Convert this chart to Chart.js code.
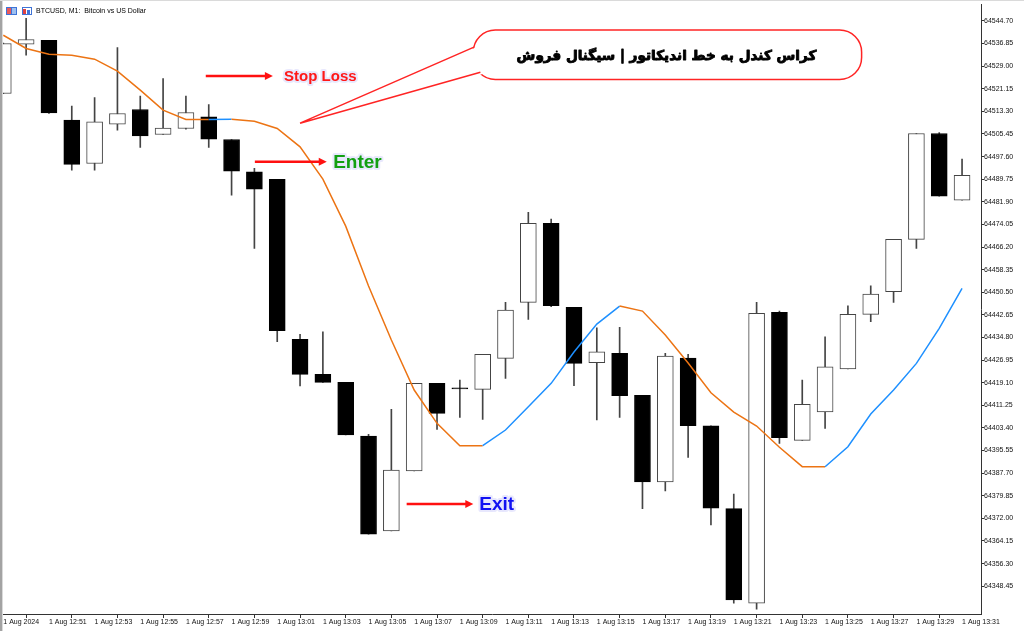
<!DOCTYPE html>
<html>
<head>
<meta charset="utf-8">
<script src="https://cdn.jsdelivr.net/npm/chart.js@4.4.1/dist/chart.umd.min.js"></script>
<style>
  html, body { margin: 0; padding: 0; background: #fff; }
  canvas { display: block; }
</style>
</head>
<body>
<canvas id="myChart" width="1024" height="631"></canvas>
<script>
// M1 candles, 1 Aug 2024
const times = ['12:49','12:50','12:51','12:52','12:53','12:54','12:55','12:56','12:57','12:58',
  '12:59','13:00','13:01','13:02','13:03','13:04','13:05','13:06','13:07','13:08',
  '13:09','13:10','13:11','13:12','13:13','13:14','13:15','13:16','13:17','13:18',
  '13:19','13:20','13:21','13:22','13:23','13:24','13:25','13:26','13:27','13:28',
  '13:29','13:30','13:31']

const opens = [64519.50, 64536.61, 64538.00, 64510.24, 64495.21, 64508.85, 64513.95, 64505.28, 64507.36, 64511.39,
  64503.54, 64492.30, 64489.66, 64434.14, 64422.00, 64419.22, 64400.59, 64367.62, 64388.44, 64418.87,
  64417.30, 64416.79, 64427.55, 64446.98, 64474.39, 64445.25, 64426.02, 64429.28, 64414.71, 64384.63,
  64427.65, 64404.16, 64375.36, 64342.53, 64443.51, 64399.10, 64408.92, 64423.84, 64442.82, 64450.66,
  64468.84, 64505.62, 64482.48]

const highs = [64537.00, 64545.63, 64538.00, 64515.10, 64518.12, 64535.47, 64518.57, 64524.71, 64518.57, 64515.69,
  64503.54, 64493.48, 64489.66, 64435.88, 64436.78, 64419.22, 64401.18, 64409.85, 64418.87, 64418.87,
  64420.02, 64428.94, 64446.98, 64478.21, 64475.89, 64445.25, 64438.17, 64438.31, 64414.71, 64429.28,
  64428.94, 64404.16, 64380.46, 64446.98, 64443.96, 64420.02, 64435.05, 64445.80, 64452.74, 64468.84,
  64505.62, 64505.97, 64496.71]

const lows = [64519.40, 64532.79, 64512.56, 64492.89, 64492.89, 64506.77, 64500.77, 64505.28, 64507.12, 64500.77,
  64484.21, 64465.72, 64433.31, 64417.94, 64419.22, 64400.93, 64366.48, 64367.62, 64388.44, 64402.91,
  64407.08, 64406.38, 64420.61, 64441.08, 64445.46, 64418.04, 64406.14, 64407.08, 64375.36, 64381.50,
  64393.20, 64369.70, 64342.53, 64340.45, 64398.05, 64399.10, 64403.26, 64423.84, 64440.25, 64446.98,
  64465.72, 64483.87, 64482.48]

const closes = [64536.85, 64538.24, 64512.77, 64494.87, 64509.65, 64512.56, 64504.79, 64507.46, 64512.91, 64503.65,
  64492.54, 64486.30, 64437.13, 64422.00, 64419.22, 64400.93, 64366.48, 64388.79, 64418.87, 64408.46,
  64416.90, 64428.94, 64444.31, 64474.39, 64445.80, 64425.81, 64429.84, 64414.57, 64384.63, 64428.35,
  64404.16, 64375.50, 64343.68, 64443.16, 64400.00, 64411.59, 64424.64, 64442.82, 64449.86, 64468.84,
  64505.62, 64483.87, 64491.05]

// indicator line (orange = falling, blue = rising)
const maValues = [64539.73, 64535.12, 64533.14, 64532.79, 64531.41, 64527.24, 64520.65, 64513.71, 64510.48, 64510.45,
  64510.59, 64509.89, 64507.36, 64500.98, 64489.77, 64473.46, 64452.64, 64433.90, 64416.55, 64404.99,
  64397.22, 64397.22, 64402.67, 64410.76, 64418.87, 64429.74, 64439.45, 64445.70, 64443.96, 64435.63,
  64425.92, 64415.61, 64408.92, 64404.06, 64396.67, 64389.94, 64389.94, 64396.88, 64408.22, 64416.55,
  64425.81, 64437.96, 64451.84]

const priceTicks = [64348.45, 64356.30, 64364.15, 64372.00, 64379.85, 64387.70, 64395.55, 64403.40, 64411.25,
  64419.10, 64426.95, 64434.80, 64442.65, 64450.50, 64458.35, 64466.20, 64474.05, 64481.90, 64489.75,
  64497.60, 64505.45, 64513.30, 64521.15, 64529.00, 64536.85, 64544.70]

const symbolTitle = 'BTCUSD, M1:  Bitcoin vs US Dollar'
const calloutText = 'کراس کندل به خط اندیکاتور | سیگنال فروش'

const ORANGE = '#ec7414'
const BLUE = '#1e90ff'

// arrows + labels, placed in candle index / price units
const notes = [
  { text: 'Stop Loss', color: '#ff1818', size: 15, from: 8.87, to: 11.81, price: 64525.6, textAt: 12.3 },
  { text: 'Enter', color: '#12a012', size: 19, from: 11.02, to: 14.17, price: 64495.8, textAt: 14.45 },
  { text: 'Exit', color: '#1212f2', size: 19, from: 17.67, to: 20.59, price: 64377.0, textAt: 20.85 },
]

const overlay = {
  id: 'overlay',
  beforeDraw(chart) {
    const c = chart.ctx
    c.save()
    c.fillStyle = '#fff'
    c.fillRect(0, 0, chart.width, chart.height)
    c.restore()
  },
  afterDraw(chart) {
    const c = chart.ctx
    const px = v => chart.scales.x.getPixelForValue(v)
    const py = v => chart.scales.y.getPixelForValue(v)
    c.save()

    // window frame
    c.fillStyle = '#a3a3a3'
    c.fillRect(0, 0, 2, chart.height)
    c.fillStyle = '#dadada'
    c.fillRect(2, 0, 1, chart.height)
    c.fillRect(0, 0, chart.width, 1)

    // title icons + text
    c.fillStyle = '#3f73d6'
    c.fillRect(6, 7, 11, 8)
    c.fillStyle = '#ea5a5a'
    c.fillRect(7, 8, 4, 6)
    c.fillStyle = '#9ec0f0'
    c.fillRect(12, 8, 4, 6)
    c.fillStyle = '#3f73d6'
    c.fillRect(22, 7, 10, 8)
    c.fillStyle = '#fff'
    c.fillRect(23, 8, 8, 6)
    c.fillStyle = '#e04040'
    c.fillRect(23, 9, 3, 5)
    c.fillStyle = '#3f73d6'
    c.fillRect(27, 10, 3, 4)
    c.font = '7px "Liberation Sans"'
    c.fillStyle = '#000'
    c.textAlign = 'left'
    c.textBaseline = 'middle'
    c.fillText(symbolTitle, 36, 11.5)

    // callout bubble
    const bx0 = px(20.59), bx1 = px(37.6), by0 = py(64541.5), by1 = py(64524.4)
    c.beginPath()
    c.roundRect(bx0, by0, bx1 - bx0, by1 - by0, 22)
    c.fillStyle = '#fff'
    c.fill()
    c.strokeStyle = '#ff2424'
    c.lineWidth = 1.5
    c.stroke()
    const ax = px(20.62), ay = py(64535.6)
    const bx = px(20.9), by = py(64526.9)
    const tx = px(13.0), ty = py(64509.2)
    c.beginPath()
    c.moveTo(ax + 5, ay - 1)
    c.lineTo(tx, ty)
    c.lineTo(bx + 5, by + 1)
    c.closePath()
    c.fill()
    c.beginPath()
    c.moveTo(ax, ay)
    c.lineTo(tx, ty)
    c.lineTo(bx, by)
    c.stroke()

    c.direction = 'rtl'
    c.textAlign = 'center'
    c.font = 'bold 18px "DejaVu Sans"'
    const w = c.measureText(calloutText).width
    const fs = 18 * 300 / w
    c.font = 'bold ' + fs.toFixed(1) + 'px "DejaVu Sans"'
    c.fillStyle = '#000'
    c.strokeStyle = '#000'
    c.lineWidth = 0.9
    c.lineJoin = 'round'
    const cx = (bx0 + bx1) / 2 - 1, cy = (by0 + by1) / 2 + 2
    c.strokeText(calloutText, cx, cy)
    c.fillText(calloutText, cx, cy)
    c.direction = 'ltr'

    // arrows with labels
    notes.forEach(n => {
      const x0 = px(n.from), x1 = px(n.to), y = py(n.price)
      c.strokeStyle = '#ff1010'
      c.fillStyle = '#ff1010'
      c.lineWidth = 2.5
      c.beginPath()
      c.moveTo(x0, y)
      c.lineTo(x1 - 6, y)
      c.stroke()
      c.beginPath()
      c.moveTo(x1, y)
      c.lineTo(x1 - 8, y - 4)
      c.lineTo(x1 - 8, y + 4)
      c.closePath()
      c.fill()

      c.font = 'bold ' + n.size + 'px "Liberation Sans"'
      c.textAlign = 'left'
      c.textBaseline = 'middle'
      c.lineJoin = 'round'
      c.lineWidth = 4
      c.strokeStyle = 'rgba(226,226,252,0.8)'
      c.strokeText(n.text, px(n.textAt), y + 1)
      c.fillStyle = n.color
      c.fillText(n.text, px(n.textAt), y + 1)
    })

    c.restore()
  }
}

Chart.defaults.font.family = 'Liberation Sans'
Chart.defaults.font.size = 7
Chart.defaults.color = '#111'

const bull = times.map((t, i) => closes[i] >= opens[i])

const config = {
  type: 'bar',
  data: {
    datasets: [
      {
        type: 'line',
        label: 'indicator',
        order: 0,
        data: maValues.map((v, i) => ({ x: i, y: v })),
        borderColor: ORANGE,
        borderWidth: 1.5,
        pointRadius: 0,
        tension: 0,
        segment: {
          borderColor: ctx => ctx.p1.parsed.y > ctx.p0.parsed.y ? BLUE : ORANGE
        }
      },
      {
        label: 'body',
        order: 1,
        grouped: false,
        barThickness: 16,
        minBarLength: 1,
        data: times.map((t, i) => ({ x: i, y: [opens[i], closes[i]] })),
        backgroundColor: bull.map(b => b ? '#ffffff' : '#000000'),
        borderColor: bull.map(b => b ? '#444444' : '#000000'),
        borderWidth: 1,
        borderSkipped: false
      },
      {
        label: 'wick',
        order: 2,
        grouped: false,
        barThickness: 1,
        data: times.map((t, i) => ({ x: i, y: [lows[i], highs[i]] })),
        backgroundColor: '#444444',
        borderWidth: 0
      }
    ]
  },
  options: {
    responsive: false,
    animation: false,
    devicePixelRatio: 1,
    events: [],
    layout: { padding: { left: 3, top: 4, right: 0, bottom: 0 } },
    plugins: { legend: { display: false }, tooltip: { enabled: false } },
    scales: {
      x: {
        type: 'linear',
        min: -0.013,
        max: 42.83,
        offset: false,
        afterBuildTicks: s => { s.ticks = times.map((t, i) => i).filter(i => i % 2 === 0).map(i => ({ value: i })) },
        afterFit: s => { s.height = 17 },
        ticks: {
          autoSkip: false,
          maxRotation: 0,
          align: 'start',
          padding: 0,
          callback: v => v === 0 ? '1 Aug 2024' : '1 Aug ' + times[v]
        },
        grid: { drawOnChartArea: false, tickLength: 4, color: '#333' },
        border: { color: '#333', width: 1 }
      },
      y: {
        position: 'right',
        min: 64338.8,
        max: 64550.5,
        afterBuildTicks: s => { s.ticks = priceTicks.map(v => ({ value: v })) },
        afterFit: s => { s.width = 43 },
        ticks: { autoSkip: false, padding: 0, callback: v => v.toFixed(2) },
        grid: { drawOnChartArea: false, tickLength: 3, color: '#333' },
        border: { color: '#333', width: 1 }
      }
    }
  },
  plugins: [overlay]
}

const myChart = new Chart(document.getElementById('myChart'), config)
</script>
</body>
</html>
